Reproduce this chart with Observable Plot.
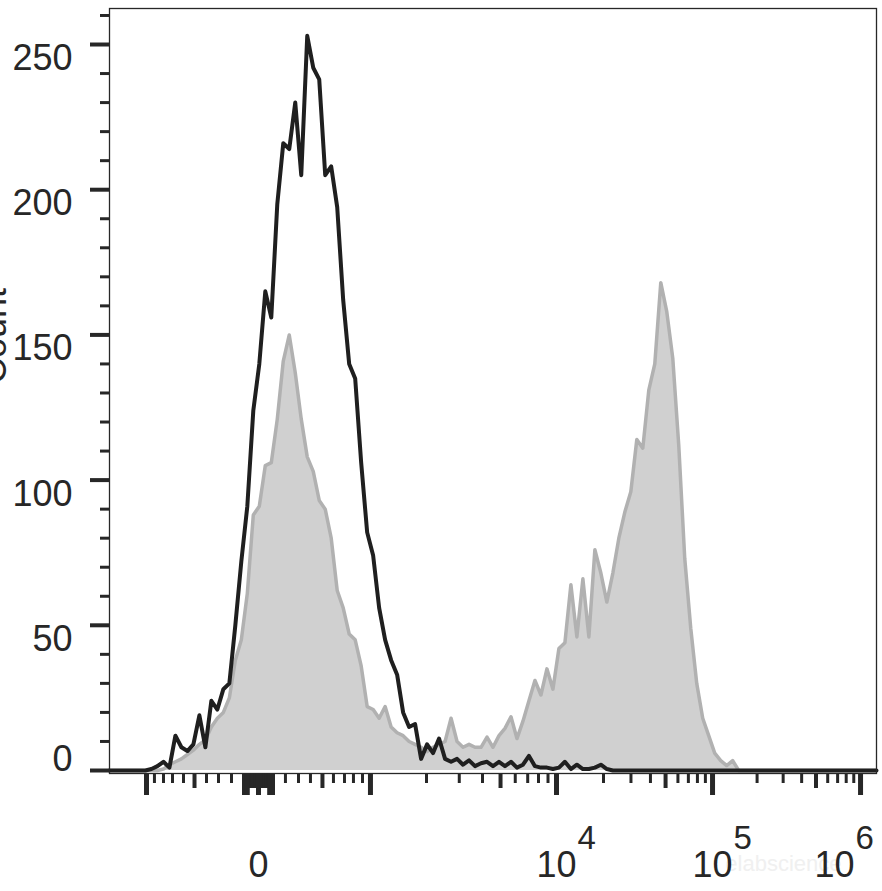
<!DOCTYPE html>
<html><head><meta charset="utf-8">
<script src="https://cdn.jsdelivr.net/npm/d3@7"></script>
<script src="https://cdn.jsdelivr.net/npm/@observablehq/plot@0.6"></script>
<style>body{margin:0;background:#fff;} svg{display:block}</style>
</head><body><div id="chart"></div>
<script>
// Histogram bins: one value every 8 display channels (0..1024)
const binWidth = 8;
const blackCounts = [0,0,0,0,0,0,0,
  0.5,1.5,3,1,12,8,6.7,9,19,8,24,21,28,30,50,72,91,124,140,165,156,195,216,214,230,205,253,242,238,205,208,194,162,140,135,106,82,74,56,45,38,33,20,15,16,4,9,6,11,4,3,4,2,3.5,1.5,2.5,3,1.5,3,1.5,3,1,2,5,1.5,1,1,0.5,1,3,0.5,2,0.5,0.5,1,2,0.5,
  0,0,0,0,0,0,0,0,0,0,0,0,0,0,0,0,0,0,0,0,0,0,0,0,0,0,0,0,0,0,0,0,0,0,0,0,0,0,0,0,0,0,0,0,0];
const grayCounts = [0,0,0,0,0,0,0,0,0,
  0.5,2,3,4,5.5,7,9,10.5,15,18,20,25,38,45,61,88,91,105,106,121,141,150,137,121,108,103,93,90,80,62,56,47,45,36,22,21,18,22,15,13,12,10,9,8,6.5,8,9,10,18,10,8,9,8,8,11.5,8,12,14.5,18.5,11,17,24,31,26,35,28,42,44,64,46,66,46,76,68,58,68,80,89,96,114,111,131,140,168,158,142,112,73,49,30,18,12,6,3.4,1.7,3.4,
  0,0,0,0,0,0,0,0,0,0,0,0,0,0,0,0,0,0,0,0,0,0,0,0];

const yMajorTicks = [0, 50, 100, 150, 200, 250];
const yMinorTicks = [10,20,30,40,60,70,80,90,110,120,130,140,160,170,180,190,210,220,230,240,260];

const xMajorTicks = [-1000, -100, -80, 0, 80, 100, 1e3, 1e4, 1e5, 1e6];
const xMidTicks = [-500, -90, -70, -60, -50, -40, -30, -20, -10, 10, 20, 30, 40, 50, 60, 70, 90, 500, 5e3, 5e4, 5e5];
const xMinorTicks = [
  -900,-800,-700,-600,-400,-300,-200,
  200,300,400,600,700,800,900,
  2e3,3e3,4e3,6e3,7e3,8e3,9e3,
  2e4,3e4,4e4,6e4,7e4,8e4,9e4,
  2e5,3e5,4e5,6e5,7e5,8e5,9e5];

const xLabelValues = [0, 1e4, 1e5, 1e6];
const xLabelBases = ["0", "10", "10", "10"];
const xLabelExps = ["", "4", "5", "6"];

// Biexponential display transform: value -> display channel
const zeroChannel = 198.9;
const linearStepChannels = [0, 18.7, 36.0, 53.4, 69.4, 85.4, 100.1, 114.8, 126.8, 138.9, 149.5];
const decadeChannels = {3: 348.5, 4: 596.8, 5: 805.1, 6: 1002.7};
function biex(v) {
  const a = Math.abs(v), s = v < 0 ? -1 : 1;
  if (a <= 1000) {
    const k = Math.min(9, Math.floor(a / 100));
    const t = (a - k * 100) / 100;
    return zeroChannel + s * (linearStepChannels[k] + t * (linearStepChannels[k + 1] - linearStepChannels[k]));
  }
  const l = Math.log10(a);
  const d = Math.min(5, Math.floor(l));
  const f = l - d;
  return decadeChannels[d] + f * (decadeChannels[d + 1] - decadeChannels[d]);
}

const toRows = arr => arr.map((c, i) => ({ch: i * binWidth, count: c}));
const black = toRows(blackCounts);
const gray = toRows(grayCounts);

const fontFamily = '"Liberation Sans", Arial, Helvetica, sans-serif';
const ink = "#272727";

const labelMarks = [];
xLabelValues.forEach((v, i) => {
  const last = i === xLabelValues.length - 1;
  labelMarks.push(Plot.text([v], {
    x: d => biex(d), frameAnchor: "bottom", dy: 103, lineAnchor: "bottom",
    text: () => xLabelBases[i], fontSize: 36, fill: ink, dx: last ? -26 : 0
  }));
  if (xLabelExps[i]) {
    labelMarks.push(Plot.text([v], {
      x: d => biex(d), frameAnchor: "bottom", dy: 75, lineAnchor: "bottom",
      textAnchor: "start", text: () => xLabelExps[i], fontSize: 33, fill: ink, dx: last ? -5 : 21
    }));
  }
});

const plot = Plot.plot({
  width: 882, height: 891,
  marginLeft: 109, marginRight: 6, marginTop: 8, marginBottom: 118,
  insetBottom: 3,
  style: {fontFamily, color: ink, background: "white"},
  x: {domain: [0, 1024], axis: null},
  y: {domain: [0, 262.4], axis: null},
  marks: [
    Plot.areaY(gray, {x: "ch", y: "count", fill: "#d0d0d0"}),
    Plot.line(gray, {x: "ch", y: "count", stroke: "#b1b1b1", strokeWidth: 3.5}),
    Plot.line(black, {x: "ch", y: "count", stroke: "#1f1f1f", strokeWidth: 4}),
    Plot.frame({stroke: ink, strokeWidth: 1.3}),
    Plot.axisY({ticks: yMinorTicks, tickSize: 9, strokeWidth: 3, tickFormat: () => "", label: null}),
    Plot.axisY({ticks: yMajorTicks.filter(v => v > 0), tickSize: 19, strokeWidth: 4, tickPadding: 18,
      fontSize: 36, lineAnchor: "top", label: null, tickFormat: d => String(d)}),
    Plot.axisY({ticks: [0], tickSize: 19, strokeWidth: 4, tickPadding: 18,
      fontSize: 36, lineAnchor: "bottom", label: null, tickFormat: d => String(d)}),
    Plot.axisX({ticks: xMinorTicks.map(biex), tickSize: 10, strokeWidth: 3, tickFormat: () => "", label: null}),
    Plot.axisX({ticks: xMidTicks.map(biex), tickSize: 15, strokeWidth: 4, tickFormat: () => "", label: null}),
    Plot.axisX({ticks: xMajorTicks.map(biex), tickSize: 22, strokeWidth: 5, tickFormat: () => "", label: null}),
    Plot.text(["elabscience"], {text: d => d, frameAnchor: "bottom-right", dx: -35, dy: 97, textAnchor: "end",
      lineAnchor: "bottom", fill: "#f0f0f0", fontSize: 22}),
    ...labelMarks,
    Plot.text(["Count"], {text: d => d, frameAnchor: "left", dx: -104, dy: -7, rotate: -90,
      lineAnchor: "bottom", fontSize: 36, fill: ink})
  ]
});
document.getElementById("chart").appendChild(plot);
</script>
</body></html>
